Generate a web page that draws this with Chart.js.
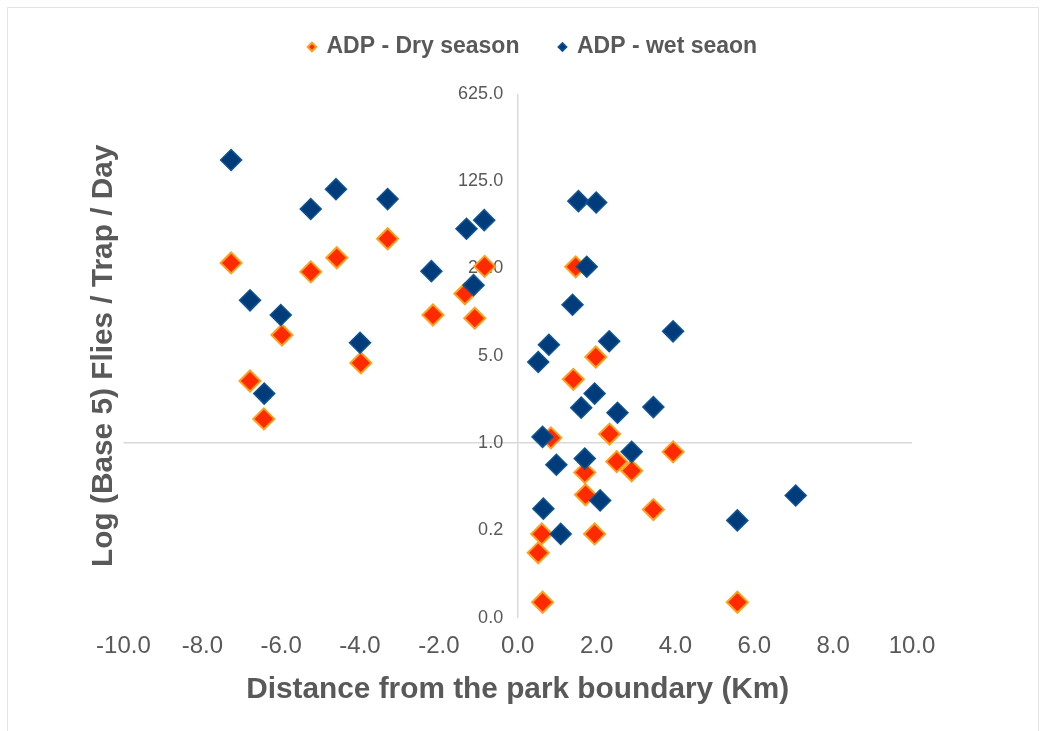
<!DOCTYPE html>
<html><head><meta charset="utf-8">
<script src="https://cdn.jsdelivr.net/npm/chart.js@4.4.0/dist/chart.umd.min.js"></script>
<style>
html,body{margin:0;padding:0;background:#fff;}
#frame{position:absolute;left:7px;top:7px;width:1032px;height:740px;border:1px solid #e4e4e4;box-sizing:border-box;}
#c{position:absolute;left:0;top:0;}
</style></head><body>
<div id="frame"></div>
<canvas id="c" width="1041" height="731"></canvas>
<script>
const seriesNames = ['ADP - Dry season', 'ADP - wet seaon'];

const dryX = [-7.27, -6.79, -6.44, -5.98, -5.25, -4.59, -3.98, -3.30, -2.15, -1.34, -1.09, -0.84,
              1.47, 1.98, 1.41, 0.84, 2.33, 3.94, 2.51, 2.89, 1.70, 1.72, 3.44, 0.61, 1.95, 0.52, 0.63, 5.57];
const dryY = [27.7, 3.14, 1.56, 7.33, 23.5, 30.5, 4.38, 43.3, 10.6, 15.7, 10.0, 26.0,
              25.8, 4.89, 3.24, 1.10, 1.18, 0.85, 0.71, 0.60, 0.58, 0.385, 0.293, 0.187, 0.187, 0.132, 0.053, 0.053];

const wetX = [-7.27, -5.25, -4.61, -3.30, -1.30, -0.85, -2.19, -1.12, -6.79, -6.01, -4.00, -6.43,
              1.54, 1.99, 1.75, 1.39, 3.94, 0.79, 2.32, 0.52, 1.95, 1.61, 2.53, 3.44, 0.63,
              2.89, 1.70, 0.98, 2.09, 0.65, 1.09, 5.57, 7.05];
const wetY = [185, 75, 108, 90, 52, 61, 23.8, 18.4, 13.9, 10.6, 6.36, 2.49,
              86.6, 84.5, 25.8, 12.8, 7.85, 6.13, 6.53, 4.46, 2.49, 1.92, 1.75, 1.94, 1.12,
              0.85, 0.75, 0.67, 0.347, 0.298, 0.187, 0.24, 0.38];

const xTicks = [-10, -8, -6, -4, -2, 0, 2, 4, 6, 8, 10];
const yTicks = [0.04, 0.2, 1, 5, 25, 125, 625];
const xTitle = 'Distance from the park boundary (Km)';
const yTitle = 'Log (Base 5) Flies / Trap / Day';
const xCross = 0;   // vertical axis crosses here
const yCross = 1;   // horizontal axis crosses here

const toPoints = (xs, ys) => xs.map((x, i) => ({x: x, y: ys[i]}));

Chart.defaults.font.family = "'Liberation Sans', Arial, sans-serif";
Chart.defaults.color = '#595959';

const legendTweak = {
  id: 'legendTweak',
  beforeInit(chart) {
    const lg = chart.legend;
    const fit = lg.fit;
    lg.fit = function () { fit.call(this); this.height += 21; };
    const draw = lg.draw;
    lg.draw = function () {
      const ctx = this.ctx;
      ctx.save();
      ctx.translate(34, -4.5);
      draw.apply(this, arguments);
      ctx.restore();
    };
  }
};

new Chart(document.getElementById('c'), {
  type: 'scatter',
  data: {
    datasets: [
      {
        label: seriesNames[0],
        data: toPoints(dryX, dryY),
        yAxisID: 'y',
        order: 1,
        pointStyle: 'rectRot',
        pointRadius: 10.5,
        pointHoverRadius: 10.5,
        backgroundColor: '#ff2a00',
        borderColor: '#ffa01c',
        borderWidth: 2
      },
      {
        label: seriesNames[1],
        data: toPoints(wetX, wetY),
        yAxisID: 'y',
        order: 0,
        pointStyle: 'rectRot',
        pointRadius: 10.5,
        pointHoverRadius: 10.5,
        backgroundColor: '#003b7a',
        borderColor: '#0f5596',
        borderWidth: 1.5
      }
    ]
  },
  options: {
    responsive: false,
    animation: false,
    devicePixelRatio: 1,
    layout: {padding: {left: 86.1, right: 129, top: 0, bottom: 23.1}},
    plugins: {
      legend: {
        position: 'top',
        align: 'center',
        labels: {
          usePointStyle: true,
          boxWidth: 6,
          boxHeight: 6,
          padding: 40,
          color: '#595959',
          font: {size: 23, weight: 'bold'},
          sort: (a, b) => a.datasetIndex - b.datasetIndex
        }
      },
      tooltip: {enabled: false}
    },
    scales: {
      x: {
        type: 'linear',
        position: 'bottom',
        min: -10,
        max: 10,
        afterBuildTicks: (axis) => { axis.ticks = xTicks.map(v => ({value: v})); },
        grid: {
          display: true,
          drawTicks: false,
          lineWidth: 1.5,
          color: (ctx) => (ctx.tick && Math.abs(ctx.tick.value - xCross) < 1e-9) ? '#d9d9d9' : 'rgba(0,0,0,0)'
        },
        border: {display: false},
        ticks: {
          padding: 14.5,
          color: '#595959',
          font: {size: 24},
          maxRotation: 0,
          autoSkip: false,
          callback: (v) => Number(v).toFixed(1)
        },
        title: {
          display: true,
          text: xTitle,
          color: '#595959',
          font: {size: 29.8, weight: 'bold'},
          padding: {top: -3.2, bottom: 0}
        }
      },
      y: {
        type: 'logarithmic',
        position: {x: -0.37},
        min: 0.04,
        max: 625,
        afterBuildTicks: (axis) => { axis.ticks = yTicks.map(v => ({value: v})); },
        grid: {
          drawTicks: false,
          lineWidth: 1.5,
          color: (ctx) => (ctx.tick && Math.abs(ctx.tick.value - yCross) < 1e-9) ? '#d9d9d9' : 'rgba(0,0,0,0)'
        },
        border: {display: false},
        ticks: {
          color: '#595959',
          font: {size: 18},
          autoSkip: false,
          callback: (v) => Number(v).toFixed(1)
        }
      },
      y2: {
        type: 'linear',
        position: 'left',
        min: 0,
        max: 1,
        grid: {display: false, drawTicks: false},
        border: {display: false},
        ticks: {display: false},
        title: {
          display: true,
          text: yTitle,
          color: '#595959',
          font: {size: 29.8, weight: 'bold'},
          padding: {top: 0, bottom: 1.6}
        }
      }
    }
  },
  plugins: [legendTweak]
});
</script>
</body></html>
